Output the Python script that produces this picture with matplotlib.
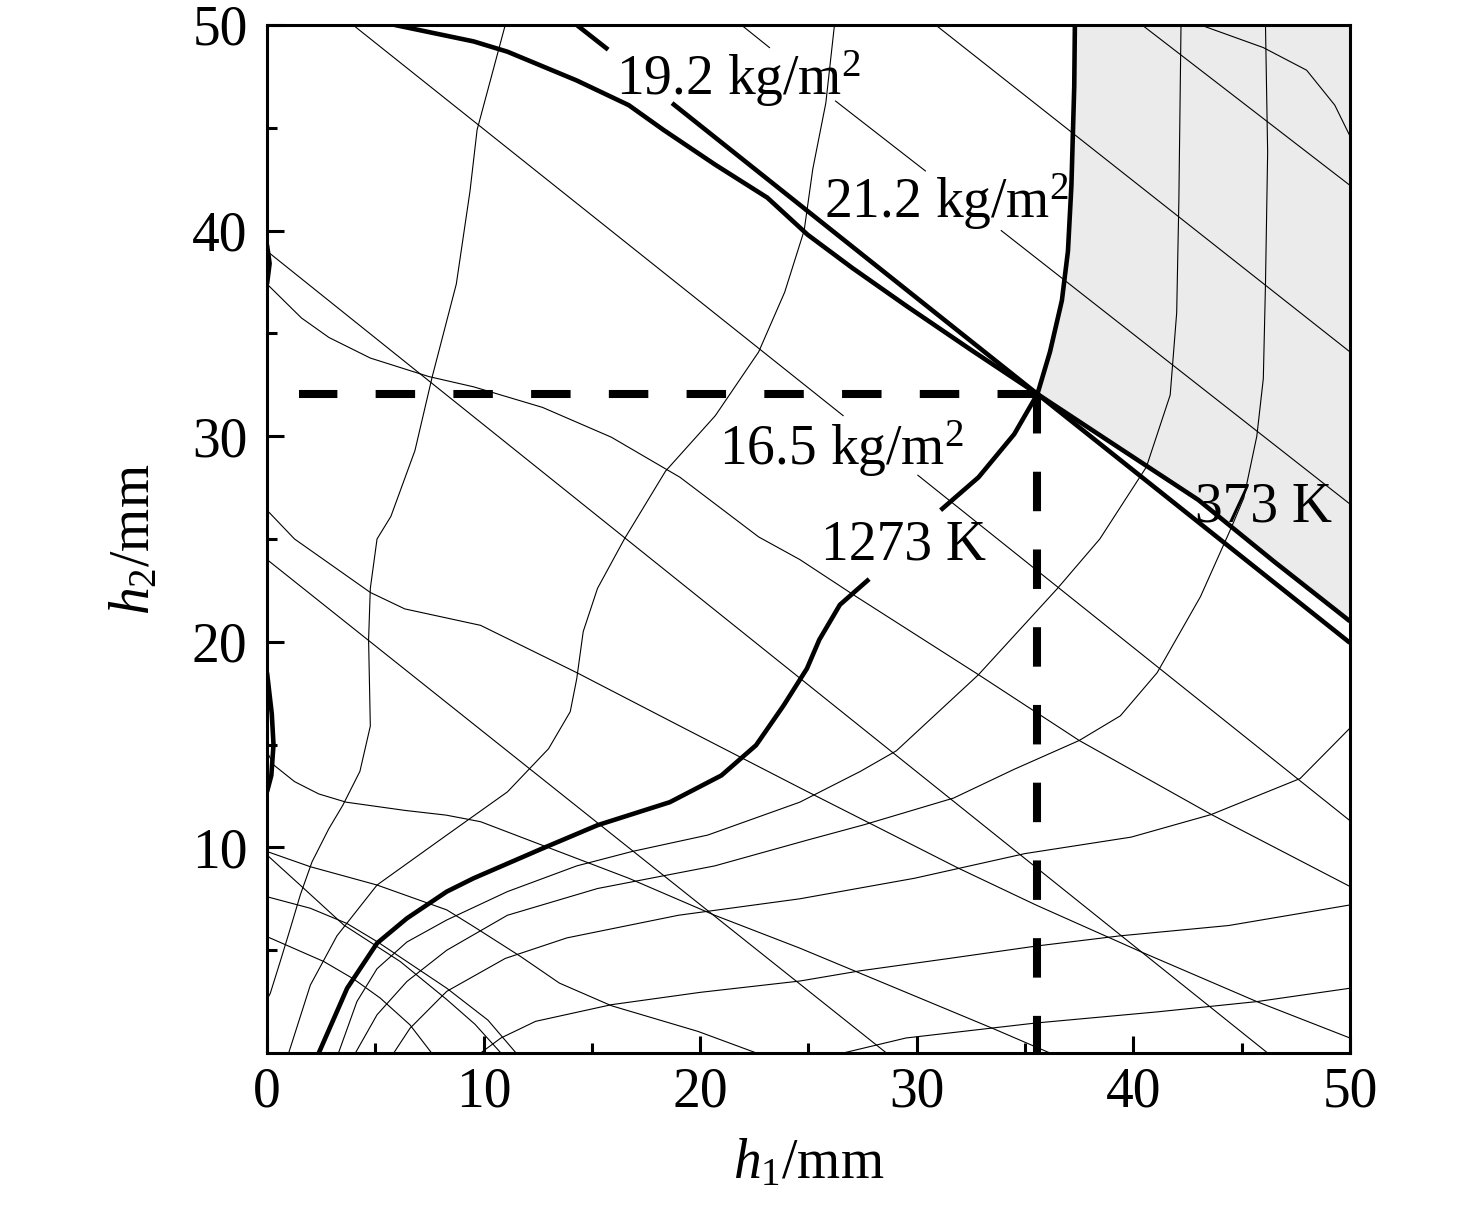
import matplotlib.pyplot as plt
import numpy as np

plt.rcParams['font.family'] = ['Liberation Serif', 'DejaVu Serif']
plt.rcParams['mathtext.fontset'] = 'custom'
plt.rcParams['mathtext.rm'] = 'Liberation Serif'
plt.rcParams['mathtext.it'] = 'Liberation Serif:italic'

nan = np.nan

# design point (dashed lines meet here)
cross_x = 35.57
cross_y = 32.05

# thick lines: 1273 K, 373 K and 19.2 kg/m2 (nan = gap under a label)
k1273_x = [2.39, 3.7, 5.08, 6.46, 8.3, 9.54, 12.72, 15.26, 18.6, 20.98, 22.58, 23.85, 24.93, 25.5, 26.45, 27.8,
           nan, 31.1, 32.85, 34.5, 35.57, 36.15, 36.7, 36.98, 37.14, 37.27, 37.3]
k1273_y = [0.0, 3.15, 5.34, 6.55, 7.85, 8.5, 9.95, 11.08, 12.2, 13.5, 14.97, 16.9, 18.7, 20.1, 21.8, 23.05,
           nan, 26.4, 28.0, 30.1, 32.05, 34.1, 36.6, 39.0, 42.2, 47.0, 50.0]
k373_x = [5.9, 9.54, 11.1, 14.3, 16.7, 18.3, 20.7, 23.1, 24.96, 27.0, 29.5, 32.5, 35.57, 38.45, 43.0, 46.5, 50.0]
k373_y = [50.0, 49.2, 48.7, 47.3, 46.1, 44.9, 43.2, 41.6, 39.8, 38.2, 36.35, 34.2, 32.05, 30.05, 26.9, 23.9, 21.0]
m192_x = [14.3, 15.75, nan, 18.7, 35.57, 50.0]
m192_y = [50.0, 48.8, nan, 46.2, 32.05, 19.95]
edge1_x = [0.0, 0.12, 0.0]
edge1_y = [39.3, 38.4, 37.4]
edge2_x = [0.0, 0.22, 0.3, 0.2, 0.0]
edge2_y = [18.5, 16.5, 15.0, 13.5, 12.7]

# thin straight mass lines
m165_x = [3.97, 26.6, nan, 30.05, 50.0]
m165_y = [50.0, 31.0, nan, 28.1, 11.3]
m212_x = [21.9, 23.2, nan, 26.25, 30.4, nan, 33.9, 50.0]
m212_y = [50.0, 48.9, nan, 46.3, 42.9, nan, 40.0, 26.7]
mb_x = [30.87, 50.0]
mb_y = [50.0, 34.1]
mc_x = [40.4, 50.0]
mc_y = [50.0, 42.2]
m2_x = [0.0, 46.2]
m2_y = [39.0, 0.0]
m3_x = [0.0, 28.6]
m3_y = [24.0, 0.0]

# thin curved lines
ta_x = [11.0, 9.7, 9.37, 8.74, 7.63, 6.83, 5.72, 5.08, 4.77, 4.69, 4.77, 4.29, 3.5, 2.85, 2.08, 1.54, 1.08, 0.61, 0.15, 0.0]
ta_y = [50.0, 44.9, 41.9, 37.4, 32.9, 29.3, 26.1, 25.0, 22.6, 20.1, 15.9, 13.7, 12.05, 10.9, 9.3, 7.7, 6.07, 4.45, 2.9, 2.6]
tb_x = [26.2, 25.8, 25.2, 24.8, 23.9, 22.7, 20.7, 18.4, 16.5, 15.26, 14.6, 14.3, 14.0, 13.0, 11.1, 8.3, 5.08, 3.23, 2.0, 1.0]
tb_y = [50.0, 46.2, 43.0, 40.0, 37.0, 34.1, 31.0, 28.3, 25.0, 22.6, 20.5, 18.2, 16.6, 14.8, 12.7, 10.6, 8.17, 5.7, 3.3, 0.0]
ca_x = [3.3, 4.15, 5.08, 6.46, 8.3, 11.1, 14.3, 16.85, 20.35, 24.6, 27.4, 29.06, 32.85, 36.5, 38.45, 40.6, 41.7,
        42.0, 42.1, 42.2]
ca_y = [0.0, 2.5, 4.1, 5.4, 6.47, 7.85, 9.1, 9.8, 10.6, 12.2, 13.7, 14.7, 18.4, 22.6, 25.0, 28.5, 32.0,
        36.0, 41.4, 50.0]
cb_x = [4.08, 5.08, 6.46, 8.3, 11.1, 15.26, 20.67, 24.93, 27.56, 31.7, 34.5, 37.5, 39.4, 41.1, 43.1, 44.5, 45.1,
        45.7, 46.0, 46.1, 46.2, 46.1]
cb_y = [0.0, 1.86, 3.48, 5.0, 6.7, 8.0, 9.1, 10.35, 11.1, 12.4, 13.8, 15.2, 16.4, 18.5, 22.2, 25.5, 27.0,
        30.0, 32.8, 37.4, 43.8, 50.0]
cc_x = [5.85, 6.6, 8.3, 11.0, 13.85, 19.0, 24.6, 29.9, 35.0, 39.9, 43.6, 47.7, 50.0]
cc_y = [0.0, 1.2, 3.0, 4.6, 5.6, 6.7, 7.5, 8.5, 9.7, 10.5, 11.6, 13.35, 15.8]
cd_x = [9.86, 10.8, 12.4, 15.9, 20.0, 24.6, 27.4, 31.5, 35.5, 39.4, 44.4, 50.0]
cd_y = [0.0, 0.73, 1.54, 2.35, 2.95, 3.5, 4.0, 4.6, 5.2, 5.7, 6.2, 7.2]
ce_x = [26.6, 29.5, 35.5, 41.1, 45.7, 50.0]
ce_y = [0.0, 0.73, 1.46, 2.0, 2.5, 3.15]
corner_x = [43.1, 46.0, 48.0, 49.3, 50.0]
corner_y = [50.0, 48.9, 47.8, 46.1, 44.6]
g_x = [0.0, 1.59, 2.86, 4.77, 7.47, 9.54, 12.72, 15.9, 19.07, 22.7, 24.6, 27.2, 32.85, 37.5, 43.6, 50.0]
g_y = [37.4, 35.75, 34.8, 33.8, 32.9, 32.4, 31.4, 29.95, 28.0, 25.1, 24.0, 22.2, 18.4, 15.2, 11.6, 8.1]
m4_x = [0.0, 1.27, 4.77, 6.36, 9.86, 14.3, 19.07, 24.6, 31.9, 35.5, 40.4, 45.7, 50.0]
m4_y = [26.4, 25.0, 22.4, 21.6, 20.8, 18.5, 15.9, 12.9, 9.0, 7.2, 4.9, 2.5, 0.73]
l5_x = [0.0, 0.32, 1.27, 2.39, 3.65, 6.36, 8.27, 9.86, 12.72, 16.7, 20.67, 24.6, 33.5, 36.15]
l5_y = [14.65, 14.0, 13.2, 12.6, 12.2, 11.8, 11.57, 11.25, 10.1, 8.5, 6.7, 5.1, 1.2, 0.0]
m5_x = [0.0, 2.0, 5.08, 8.3, 9.54, 11.7, 13.5, 15.9, 19.9, 22.6]
m5_y = [9.8, 9.06, 8.17, 6.96, 6.15, 4.7, 3.4, 2.3, 1.05, 0.0]
m6_x = [0.0, 1.6, 3.54, 5.08, 6.15, 8.3, 9.6, 10.8]
m6_y = [9.63, 8.1, 6.23, 5.18, 4.45, 2.6, 1.4, 0.0]
m7b_x = [0.0, 2.0, 3.69, 5.08, 8.3, 10.2, 11.5]
m7b_y = [7.6, 7.04, 6.3, 5.42, 3.15, 1.6, 0.0]
m7_x = [0.0, 2.62, 4.0, 5.23, 6.6, 7.6]
m7_y = [5.66, 4.45, 3.6, 2.67, 1.37, 0.0]

labels = ['19.2 kg/m$^2$', '21.2 kg/m$^2$', '16.5 kg/m$^2$', '1273 K', '373 K']
label_x = [16.1, 25.7, 20.85, 25.6, 42.85]
label_y = [47.4, 41.4, 29.4, 24.7, 26.55]

fig = plt.figure(figsize=(14.76, 12.24), dpi=100)
ax = fig.add_axes([0.1809, 0.1397, 0.7337, 0.8399])
ax.set_xlim(0, 50)
ax.set_ylim(0, 50)

# shaded region right of the 1273 K line and above the 373 K line
k_hi_x = np.array(k1273_x)
k_hi_y = np.array(k1273_y)
sel = k_hi_y >= cross_y - 1e-9
k3_x = np.array(k373_x)
k3_y = np.array(k373_y)
sel3 = k3_x >= cross_x - 1e-9
poly_x = np.concatenate([k_hi_x[sel], [50.0], k3_x[sel3][::-1]])
poly_y = np.concatenate([k_hi_y[sel], [50.0], k3_y[sel3][::-1]])
ax.fill(poly_x, poly_y, color='#ebebeb', lw=0, zorder=0)

thin = [(m165_x, m165_y), (m212_x, m212_y), (mb_x, mb_y), (mc_x, mc_y), (m2_x, m2_y), (m3_x, m3_y),
        (ta_x, ta_y), (tb_x, tb_y), (ca_x, ca_y), (cb_x, cb_y), (cc_x, cc_y), (cd_x, cd_y), (ce_x, ce_y),
        (corner_x, corner_y), (g_x, g_y), (m4_x, m4_y), (l5_x, l5_y), (m5_x, m5_y), (m6_x, m6_y),
        (m7b_x, m7b_y), (m7_x, m7_y)]
for xs, ys in thin:
    ax.plot(xs, ys, color='black', lw=0.8, zorder=2)

for xs, ys in [(k1273_x, k1273_y), (k373_x, k373_y), (m192_x, m192_y), (edge1_x, edge1_y), (edge2_x, edge2_y)]:
    ax.plot(xs, ys, color='black', lw=3.3, zorder=3, solid_capstyle='butt')

# dashed guide lines drawn outward from the design point
ax.plot([cross_x, 1.5], [cross_y, cross_y], color='black', lw=5.8, dashes=(4.9, 4.75), zorder=4)
ax.plot([cross_x, cross_x], [cross_y, 0.0], color='black', lw=5.8, dashes=(4.9, 4.75), zorder=4)

for t, x, y in zip(labels, label_x, label_y):
    ax.text(x, y, t, fontsize=40, ha='left', va='center', zorder=5)

ax.set_xticks(range(0, 51, 10))
ax.set_xticks(range(5, 50, 10), minor=True)
ax.set_yticks([10, 20, 30, 40, 50])
ax.set_yticks([5, 15, 25, 35, 45], minor=True)
ax.tick_params(which='both', direction='in', top=False, right=False, width=2.2)
ax.tick_params(which='major', length=12, labelsize=40)
ax.tick_params(which='minor', length=7)
ax.tick_params(axis='x', pad=10)
ax.tick_params(axis='y', pad=14)
for s in ax.spines.values():
    s.set_linewidth(2.2)

ax.set_xlabel(r'$h_1$/mm', fontsize=40, labelpad=14)
ax.set_ylabel(r'$h_2$/mm', fontsize=40, labelpad=22)

fig.savefig('out.png', dpi=100)
